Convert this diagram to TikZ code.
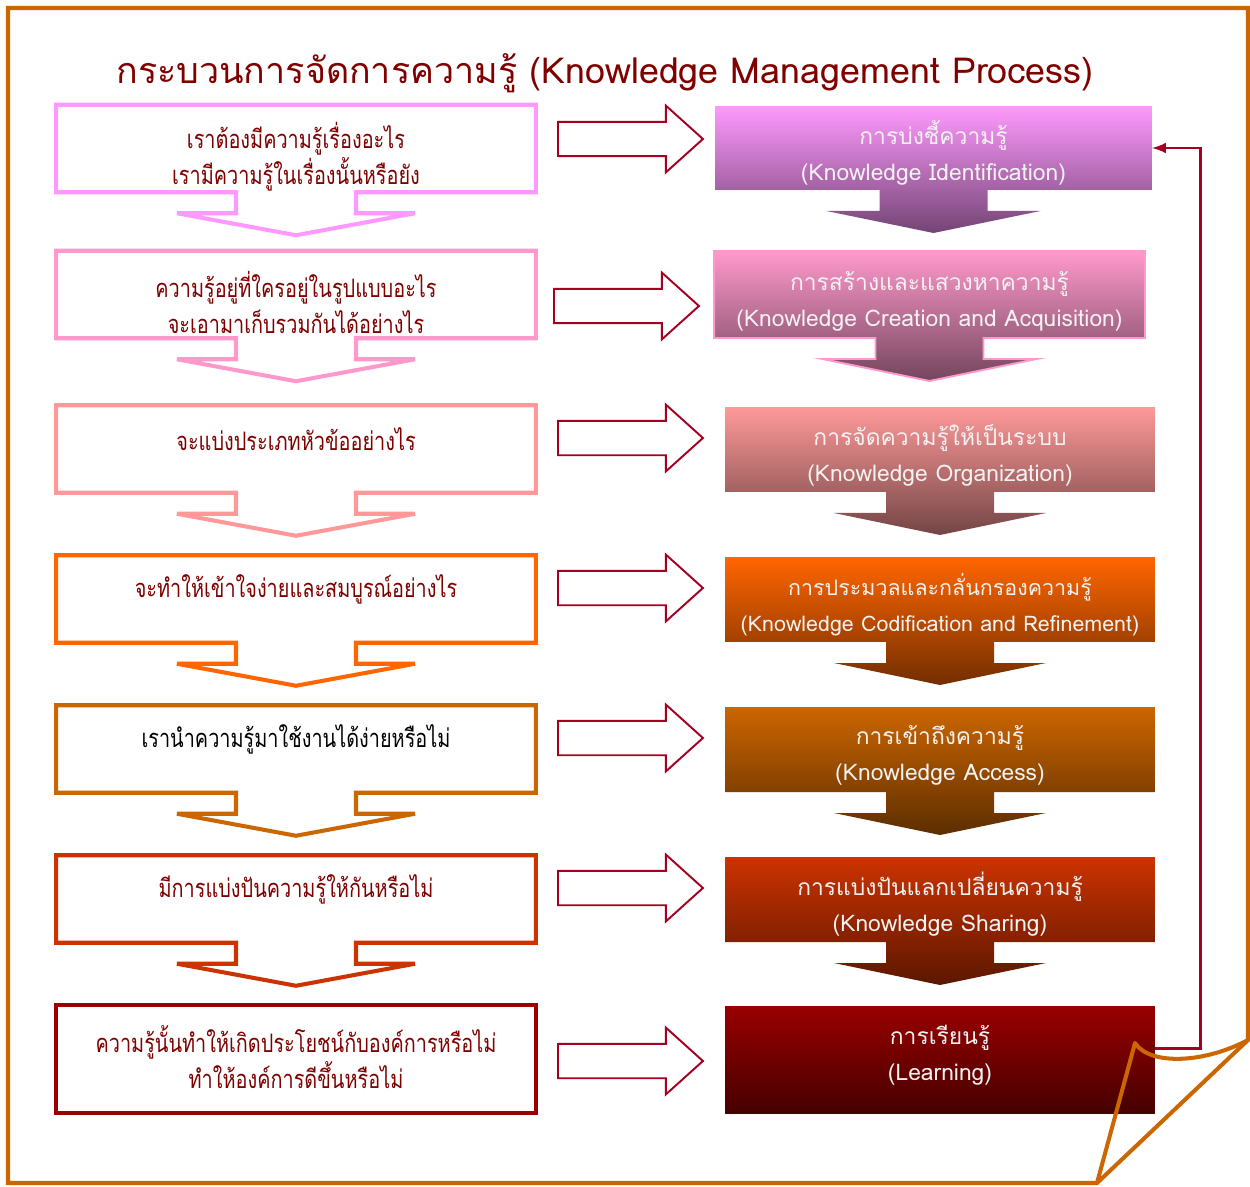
\documentclass[tikz,border=0pt]{standalone}
\usepackage{fontspec}
\setmainfont[Script=Thai]{Loma}
\newfontfamily\thaicond[Script=Thai, FakeStretch=0.78]{Loma}
\usepackage{tikz}
\usepackage{xcolor}
\usetikzlibrary{shapes.arrows,backgrounds}

\definecolor{kmframe}{HTML}{CC6600}
\definecolor{kmred}{HTML}{A50021}
\definecolor{kmtext}{HTML}{800000}
\definecolor{kmA}{HTML}{FF99FF}
\definecolor{kmB}{HTML}{FF99CC}
\definecolor{kmC}{HTML}{FF9999}
\definecolor{kmD}{HTML}{FF6600}
\definecolor{kmE}{HTML}{CC6600}
\definecolor{kmF}{HTML}{CC3300}
\definecolor{kmG}{HTML}{990000}

\tikzset{
  lbox/.style={inner sep=0pt, outer sep=0pt, minimum width=9.6cm, minimum height=1.75cm},
  rbox/.style={inner sep=0pt, outer sep=0pt, minimum width=8.6cm, minimum height=1.7cm},
  ltext/.style={align=center, text=kmtext, font=\thaicond\fontsize{14.5}{20.5}\selectfont},
  rtext/.style={align=center, text=white!95!black, font=\fontsize{13}{20.5}\selectfont},
  lline/.style={draw=#1, line width=2.3pt, line join=miter},
  rfill/.style={top color=#1, bottom color=#1!45!black},
  blockarrow/.style={single arrow, draw=kmred, line width=1.1pt, fill=white, anchor=tail,
    minimum height=2.9cm, inner xsep=0pt, inner ysep=0.325cm,
    single arrow head extend=0.325cm, single arrow tip angle=84}
}

\newcommand{\downcall}[6]{%
  \path[#6] (#1.north west) -- (#1.north east) -- (#1.south east)
    -- ([shift={(#2,0)}]#1.south) -- ([shift={(#2,#4)}]#1.south)
    -- ([shift={(#3,#4)}]#1.south) -- ([shift={(0,#5)}]#1.south)
    -- ([shift={(-#3,#4)}]#1.south) -- ([shift={(-#2,#4)}]#1.south)
    -- ([shift={(-#2,0)}]#1.south) -- (#1.south west) -- cycle;}

\begin{document}
\begin{tikzpicture}[x=0.02cm, y=-0.02cm]
        \useasboundingbox (0,0) rectangle (1250,1186);

        \node[font=\fontsize{20.4}{24}\selectfont, text=kmtext] (title) at (605,73)
        {กระบวนการจัดการความรู้ (Knowledge Management Process)};

        \node[lbox] (l1) at (296,148.5) {};
        \node[lbox] (l2) at (296,294.5) {};
        \node[lbox] (l3) at (296,449) {};
        \node[lbox] (l4) at (296,599) {};
        \node[lbox] (l5) at (296,749) {};
        \node[lbox] (l6) at (296,899) {};
        \node[lbox, minimum height=2.16cm] (l7) at (296,1059) {};

        \node[ltext] (l1t) at (296,157) {เราต้องมีความรู้เรื่องอะไร\\เรามีความรู้ในเรื่องนั้นหรือยัง};
        \node[ltext] (l2t) at (296,302) {ความรู้อยู่ที่ใครอยู่ในรูปแบบอะไร\\จะเอามาเก็บรวมกันได้อย่างไร};
        \node[ltext] (l3t) at (296,439) {จะแบ่งประเภทหัวข้ออย่างไร};
        \node[ltext] (l4t) at (296,589) {จะทำให้เข้าใจง่ายและสมบูรณ์อย่างไร};
        \node[ltext, text=black] (l5t) at (296,739) {เรานำความรู้มาใช้งานได้ง่ายหรือไม่};
        \node[ltext] (l6t) at (296,889) {มีการแบ่งปันความรู้ให้กันหรือไม่};
        \node[ltext] (l7t) at (296,1057) {ความรู้นั้นทำให้เกิดประโยชน์กับองค์การหรือไม่\\ทำให้องค์การดีขึ้นหรือไม่};

        \node[rbox, minimum width=8.74cm, minimum height=1.68cm] (r1) at (933.5,148) {};
        \node[rbox, minimum width=8.62cm, minimum height=1.74cm] (r2) at (929.5,294.5) {};
        \node[rbox] (r3) at (940,449.5) {};
        \node[rbox] (r4) at (940,599.5) {};
        \node[rbox] (r5) at (940,749.5) {};
        \node[rbox] (r6) at (940,899.5) {};
        \node[rbox, minimum height=2.14cm] (r7) at (940,1059.5) {};

        \node[rtext] (r1t) at (933.5,153) {การบ่งชี้ความรู้\\(Knowledge Identification)};
        \node[rtext] (r2t) at (929.5,301) {การสร้างและแสวงหาความรู้\\(Knowledge Creation and Acquisition)};
        \node[rtext] (r3t) at (940,455) {การจัดความรู้ให้เป็นระบบ\\(Knowledge Organization)};
        \node[rtext, font=\fontsize{12.2}{20.5}\selectfont] (r4t) at (940,605)
        {การประมวลและกลั่นกรองความรู้\\(Knowledge Codification and Refinement)};
        \node[rtext] (r5t) at (940,755) {การเข้าถึงความรู้\\(Knowledge Access)};
        \node[rtext] (r6t) at (940,904) {การแบ่งปันแลกเปลี่ยนความรู้\\(Knowledge Sharing)};
        \node[rtext] (r7t) at (940,1055) {การเรียนรู้\\(Learning)};

        \begin{scope}[on background layer]
        \fill[white] (0,0) rectangle (1250,1186);
        \downcall{l1}{60}{119}{21}{43}{lline=kmA}
        \downcall{l2}{60}{119}{21}{43}{lline=kmB}
        \downcall{l3}{60}{119}{21}{43}{lline=kmC}
        \downcall{l4}{60}{119}{21}{43}{lline=kmD}
        \downcall{l5}{60}{119}{21}{43}{lline=kmE}
        \downcall{l6}{60}{119}{21}{43}{lline=kmF}
        \draw[lline=kmG] (l7.north west) rectangle (l7.south east);
        \downcall{r1}{54}{107}{21}{43}{rfill=kmA}
        \downcall{r2}{54}{107}{21}{43}{rfill=kmB, draw=kmB, line width=1.1pt}
        \downcall{r3}{54}{106}{21}{43}{rfill=kmC}
        \downcall{r4}{54}{106}{21}{43}{rfill=kmD}
        \downcall{r5}{54}{106}{21}{43}{rfill=kmE}
        \downcall{r6}{54}{106}{21}{43}{rfill=kmF}
        \shade[rfill=kmG] (r7.north west) rectangle (r7.south east);
        \end{scope}

        \foreach \x/\y [count=\i] in {557/139,553/306,557/438,557/588,557/738,557/888,557/1061}
        \node[blockarrow] (m\i) at (\x,\y) {};

        \draw[kmred, line width=1.7pt, -latex] ([shift={(0,-11)}]r7.east) -- ++(46,0) |- (r1.east);

        \draw[kmframe, line width=2.3pt] (8,8) -- (1248,8) -- (1248,1040) -- (1097,1183) -- (8,1183) -- cycle;
        \draw[kmframe, line width=2.3pt, line join=round] (1097,1183) -- (1135,1043)
        .. controls (1150,1066) and (1205,1063) .. (1248,1040);
\end{tikzpicture}
\end{document}
